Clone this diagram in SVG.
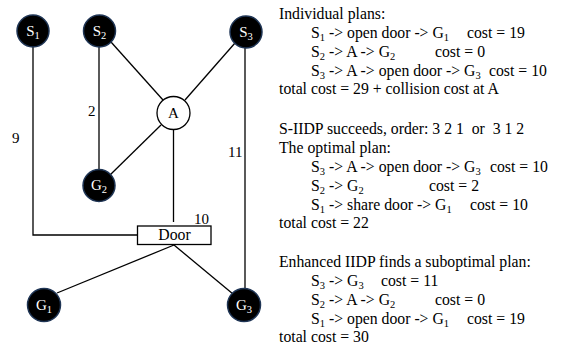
<svg xmlns="http://www.w3.org/2000/svg" width="563" height="347" viewBox="0 0 563 347" font-family="'Liberation Serif', 'Times New Roman', Times, serif">
<style>
  text { font-family: 'Liberation Serif', 'Times New Roman', Times, serif; fill: #000; }
  .t { font-size: 15.75px; }
  .sub { font-size: 10.5px; }
  .nl { font-size: 15px; fill: #fff; text-anchor: middle; }
  .lbl { font-size: 15px; }
  .dark { fill: #000; stroke: #1f3555; stroke-width: 1.5; }
  .edge { stroke: #000; stroke-width: 1.3; fill: none; }
</style>
<rect width="563" height="347" fill="#fff"/>
<g id="connectors">
  <polyline class="edge" points="33,47 33,235 137,235"/>
  <line class="edge" x1="99" y1="47" x2="99" y2="169"/>
  <line class="edge" x1="111" y1="42" x2="163" y2="100"/>
  <line class="edge" x1="235" y1="43" x2="185" y2="100"/>
  <line class="edge" x1="161" y1="125" x2="110" y2="175"/>
  <line class="edge" x1="173.5" y1="130" x2="173.5" y2="222"/>
  <line class="edge" x1="245" y1="48" x2="245" y2="289"/>
  <line class="edge" x1="174" y1="245" x2="57" y2="293"/>
  <line class="edge" x1="174" y1="245" x2="233" y2="294"/>
  <text class="lbl" x="88" y="116">2</text>
  <text class="lbl" x="12" y="143">9</text>
  <text class="lbl" x="228" y="157">11</text>
  <text class="lbl" x="194" y="224">10</text>
</g>
<g id="S1"><circle class="dark" cx="33" cy="31" r="16"/><text class="nl" x="33" y="36">S<tspan class="sub" dy="3">1</tspan></text></g>
<g id="S2"><circle class="dark" cx="99.5" cy="31" r="16"/><text class="nl" x="99.5" y="36">S<tspan class="sub" dy="3">2</tspan></text></g>
<g id="S3"><circle class="dark" cx="246" cy="32" r="16"/><text class="nl" x="246" y="37">S<tspan class="sub" dy="3">3</tspan></text></g>
<g id="A"><circle cx="173.5" cy="113" r="16.5" fill="#fff" stroke="#000" stroke-width="1.3"/><text class="lbl" x="173.5" y="118" text-anchor="middle">A</text></g>
<g id="G2"><circle class="dark" cx="99" cy="185.5" r="16"/><text class="nl" x="99" y="190">G<tspan class="sub" dy="3">2</tspan></text></g>
<g id="G1"><circle class="dark" cx="44" cy="305" r="16.5"/><text class="nl" x="44" y="310">G<tspan class="sub" dy="3">1</tspan></text></g>
<g id="G3"><circle class="dark" cx="244" cy="305" r="16.5"/><text class="nl" x="244" y="310">G<tspan class="sub" dy="3">3</tspan></text></g>
<g id="Door"><rect x="137.5" y="226" width="73.5" height="18.5" fill="#fff" stroke="#000" stroke-width="1.3"/><text class="t" x="174.5" y="240" text-anchor="middle">Door</text></g>
<g id="notes">
  <text class="t" x="279" y="18.5">Individual plans:</text>
  <text class="t" x="311" y="37.5">S<tspan class="sub" dy="3">1</tspan><tspan dy="-3"> -&gt; open door -&gt; G</tspan><tspan class="sub" dy="3">1</tspan><tspan x="467" dy="-3">cost = 19</tspan></text>
  <text class="t" x="311" y="56.5">S<tspan class="sub" dy="3">2</tspan><tspan dy="-3"> -&gt; A -&gt; G</tspan><tspan class="sub" dy="3">2</tspan><tspan x="435" dy="-3">cost = 0</tspan></text>
  <text class="t" x="311" y="75.5">S<tspan class="sub" dy="3">3</tspan><tspan dy="-3"> -&gt; A -&gt; open door -&gt; G</tspan><tspan class="sub" dy="3">3</tspan><tspan x="489" dy="-3">cost = 10</tspan></text>
  <text class="t" x="279" y="94">total cost = 29 + collision cost at A</text>

  <text class="t" x="279" y="134" xml:space="preserve">S-IIDP succeeds, order: 3 2 1  or  3 1 2</text>
  <text class="t" x="279" y="153">The optimal plan:</text>
  <text class="t" x="311" y="172">S<tspan class="sub" dy="3">3</tspan><tspan dy="-3"> -&gt; A -&gt; open door -&gt; G</tspan><tspan class="sub" dy="3">3</tspan><tspan x="490" dy="-3">cost = 10</tspan></text>
  <text class="t" x="311" y="190.5">S<tspan class="sub" dy="3">2</tspan><tspan dy="-3"> -&gt; G</tspan><tspan class="sub" dy="3">2</tspan><tspan x="429" dy="-3">cost = 2</tspan></text>
  <text class="t" x="311" y="209.5">S<tspan class="sub" dy="3">1</tspan><tspan dy="-3"> -&gt; share door -&gt; G</tspan><tspan class="sub" dy="3">1</tspan><tspan x="470" dy="-3">cost = 10</tspan></text>
  <text class="t" x="279" y="228">total cost = 22</text>

  <text class="t" x="279" y="266.5">Enhanced IIDP finds a suboptimal plan:</text>
  <text class="t" x="311" y="285.5">S<tspan class="sub" dy="3">3</tspan><tspan dy="-3"> -&gt; G</tspan><tspan class="sub" dy="3">3</tspan><tspan x="381" dy="-3">cost = 11</tspan></text>
  <text class="t" x="311" y="304.5">S<tspan class="sub" dy="3">2</tspan><tspan dy="-3"> -&gt; A -&gt; G</tspan><tspan class="sub" dy="3">2</tspan><tspan x="435" dy="-3">cost = 0</tspan></text>
  <text class="t" x="311" y="323.5">S<tspan class="sub" dy="3">1</tspan><tspan dy="-3"> -&gt; open door -&gt; G</tspan><tspan class="sub" dy="3">1</tspan><tspan x="467" dy="-3">cost = 19</tspan></text>
  <text class="t" x="279" y="342">total cost = 30</text>
</g>
</svg>
